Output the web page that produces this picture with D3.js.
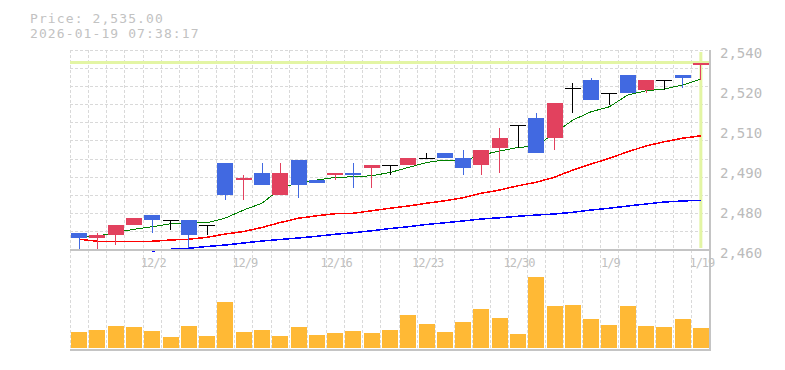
<!DOCTYPE html>
<html>
<head>
<meta charset="utf-8">
<script src="https://cdn.jsdelivr.net/npm/d3@7/dist/d3.min.js"></script>
<style>
    body { margin: 0; background: #fff; }
    svg { display: block; }
    .info { font-family: "DejaVu Sans Mono", monospace; font-size: 13px; fill: #c2c2c2; letter-spacing: 1.1px; }
    .yaxis text { font-family: "DejaVu Sans Mono", monospace; font-size: 14px; fill: #bbb; }
    .xaxis text { font-family: "DejaVu Sans Mono", monospace; font-size: 12px; fill: #c0c0c0; letter-spacing: -1px; }
</style>
</head>
<body>
<svg id="chart" width="785" height="370"></svg>
<script>
// Дневные свечи, 35 торговых дней
var dates = ["11/26", "11/27", "11/28", "12/1", "12/2", "12/3", "12/4", "12/5", "12/8", "12/9",
             "12/10", "12/11", "12/12", "12/15", "12/16", "12/17", "12/18", "12/19", "12/22", "12/23",
             "12/24", "12/25", "12/26", "12/29", "12/30", "1/5", "1/6", "1/7", "1/8", "1/9",
             "1/13", "1/14", "1/15", "1/16", "1/19"];

var open  = [2467, 2465, 2466, 2470, 2474, 2472, 2472, 2470, 2495, 2488,
             2491, 2482, 2496, 2488, 2490, 2491, 2493, 2494, 2494, 2497,
             2499, 2497, 2494, 2501, 2510, 2513, 2505, 2525, 2528, 2523,
             2530, 2524, 2528, 2530, 2534];
var high  = [2467, 2467, 2470, 2473, 2474, 2472, 2472, 2470, 2495, 2490,
             2495, 2495, 2496, 2488, 2491, 2495, 2494, 2494, 2497, 2499,
             2499, 2500, 2500, 2509, 2510, 2515, 2519, 2527, 2529, 2523,
             2530, 2528, 2528, 2530, 2535];
var low   = [2460, 2460, 2462, 2470, 2467, 2468, 2461, 2466, 2480, 2480,
             2486, 2482, 2481, 2487, 2488, 2485, 2485, 2490, 2494, 2497,
             2497, 2490, 2490, 2491, 2501, 2499, 2500, 2515, 2520, 2518,
             2523, 2523, 2524, 2525, 2528];
var close = [2465, 2466, 2470, 2473, 2472, 2472, 2466, 2470, 2482, 2489,
             2486, 2491, 2486, 2487, 2491, 2490, 2494, 2494, 2497, 2497,
             2497, 2493, 2500, 2505, 2510, 2499, 2519, 2525, 2520, 2523,
             2523, 2528, 2528, 2529, 2535];

var volume = [16300, 18000, 22000, 21000, 17000, 11000, 22000, 12000, 46000, 16000,
              18000, 12000, 21000, 13000, 15000, 17000, 15000, 18000, 33000, 24000,
              16000, 26000, 39000, 30000, 14000, 71000, 42000, 43000, 29000, 23000,
              42000, 22000, 21000, 29000, 20000];

// скользящие средние (короткая / средняя / длинная)
var maShort = [2465.0, 2465.6, 2467.0, 2468.3, 2469.3, 2470.5, 2470.8, 2470.9, 2472.8, 2476.0,
               2478.7, 2484.5, 2487.0, 2488.0, 2489.0, 2489.3, 2489.7, 2491.0, 2493.0, 2495.0,
               2496.0, 2495.7, 2498.0, 2499.6, 2501.0, 2501.6, 2506.7, 2512.0, 2515.3, 2517.3,
               2522.0, 2523.7, 2524.4, 2526.0, 2528.4];
var maMid   = [2464.3, 2463.5, 2463.5, 2463.5, 2463.5, 2464.0, 2464.3, 2465.1, 2466.4, 2467.4,
               2469.0, 2471.0, 2472.7, 2473.7, 2474.5, 2474.7, 2475.7, 2476.7, 2477.6, 2478.7,
               2479.7, 2480.9, 2482.7, 2484.0, 2485.7, 2487.1, 2489.1, 2492.0, 2494.4, 2496.7,
               2499.3, 2501.6, 2503.3, 2504.7, 2505.7];
var maLong  = [null, null, null, null, 2459.6, 2460.3, 2460.7, 2461.4, 2462.0, 2462.8,
               2463.6, 2464.2, 2464.8, 2465.5, 2466.3, 2466.9, 2467.7, 2468.6, 2469.3, 2470.2,
               2470.9, 2471.6, 2472.4, 2472.9, 2473.5, 2474.0, 2474.4, 2475.1, 2476.0, 2476.7,
               2477.6, 2478.4, 2479.2, 2479.6, 2479.9];

var lastPrice = 2535;
var infoLines = ["Price: 2,535.00", "2026-01-19 07:38:17"];

var xTickLabels = ["12/2", "12/9", "12/16", "12/23", "12/30", "1/9", "1/19"];
var yTickValues = [2540, 2524, 2508, 2492, 2476, 2460];
var yTickLabels = ["2,540", "2,520", "2,510", "2,490", "2,480", "2,460"];

var COLOR_UP = "#e2415e", COLOR_DOWN = "#4169e1", COLOR_EVEN = "#000";

var svg = d3.select("#chart");

var left = 70, right = 710;
var priceTop = 50, priceBottom = 250;
var volTop = 268, volBottom = 348, volAxis = 350;

var x = d3.scaleBand().domain(dates).range([left, right]).padding(0);
var cx = function(i) { return x(dates[i]) + x.bandwidth() / 2; };
var y = d3.scaleLinear().domain([2460, 2540]).range([priceBottom, priceTop]);
var yv = d3.scaleLinear().domain([0, 80000]).range([volBottom, volTop]);

var bodyW = 16;

///////////////////////
// Сетка
///////////////////////
var grid = svg.append("g")
    .attr("stroke", "#d9d9d9")
    .attr("stroke-dasharray", "3,2")
    .attr("shape-rendering", "crispEdges");

grid.selectAll("line.v")
    .data(dates)
    .enter().append("line")
    .attr("class", "v")
    .attr("x1", function(d) { return x(d); })
    .attr("x2", function(d) { return x(d); })
    .attr("y1", priceTop)
    .attr("y2", volAxis);

var gridY = d3.scaleLinear().domain([0, 11]).range([priceBottom, priceTop]);
grid.selectAll("line.h")
    .data(d3.range(1, 12))
    .enter().append("line")
    .attr("class", "h")
    .attr("x1", left)
    .attr("x2", right)
    .attr("y1", function(d) { return gridY(d); })
    .attr("y2", function(d) { return gridY(d); });

///////////////////////
// Текущая цена
///////////////////////
svg.append("line")
    .attr("x1", left).attr("x2", right)
    .attr("y1", y(lastPrice)).attr("y2", y(lastPrice))
    .attr("stroke", "#e3f5a4").attr("stroke-width", 3);

svg.append("line")
    .attr("x1", cx(dates.length - 1)).attr("x2", cx(dates.length - 1))
    .attr("y1", priceTop + 2).attr("y2", priceBottom - 2)
    .attr("stroke", "#e3f5a4").attr("stroke-width", 3);

///////////////////////
// Объём
///////////////////////
svg.append("g").selectAll("rect")
    .data(volume)
    .enter().append("rect")
    .attr("x", function(d, i) { return cx(i) - bodyW / 2; })
    .attr("width", bodyW)
    .attr("y", function(d) { return yv(d); })
    .attr("height", function(d) { return volBottom - yv(d); })
    .attr("fill", "#ffb935")
    .attr("shape-rendering", "crispEdges");

///////////////////////
// Средние
///////////////////////
var maLine = d3.line()
    .defined(function(d) { return d != null; })
    .x(function(d, i) { return cx(i); })
    .y(function(d) { return y(d); });

[[maLong, "#0000ff", 1.5], [maMid, "#ff0000", 1.5], [maShort, "#008000", 1]].forEach(function(s) {
    svg.append("path")
        .attr("d", maLine(s[0]))
        .attr("fill", "none")
        .attr("stroke", s[1])
        .attr("stroke-width", s[2])
        .attr("shape-rendering", "crispEdges");
});

///////////////////////
// Свечи
///////////////////////
var candleColor = function(i) {
    if (close[i] > open[i]) return COLOR_UP;
    if (close[i] < open[i]) return COLOR_DOWN;
    return COLOR_EVEN;
};

var candles = svg.append("g")
    .attr("shape-rendering", "crispEdges")
    .selectAll("g")
    .data(dates)
    .enter().append("g");

candles.append("line")
    .attr("x1", function(d, i) { return cx(i); })
    .attr("x2", function(d, i) { return cx(i); })
    .attr("y1", function(d, i) { return y(high[i]); })
    .attr("y2", function(d, i) { return y(low[i]); })
    .attr("stroke", function(d, i) { return candleColor(i); })
    .attr("stroke-width", 1);

candles.append("rect")
    .attr("x", function(d, i) { return cx(i) - bodyW / 2; })
    .attr("width", bodyW)
    .attr("y", function(d, i) { return y(Math.max(open[i], close[i])); })
    .attr("height", function(d, i) { return Math.max(1, Math.abs(y(open[i]) - y(close[i]))); })
    .attr("fill", function(d, i) { return candleColor(i); });

///////////////////////
// Рамка и оси
///////////////////////
var frame = svg.append("g").attr("stroke", "#c4c4c4").attr("stroke-width", 2);
frame.append("line").attr("x1", left).attr("x2", right).attr("y1", priceBottom).attr("y2", priceBottom);
frame.append("line").attr("x1", left).attr("x2", right + 1).attr("y1", volAxis).attr("y2", volAxis);
frame.append("line").attr("x1", right).attr("x2", right).attr("y1", priceTop).attr("y2", volAxis);

var yAxis = svg.append("g")
    .attr("class", "yaxis")
    .attr("transform", "translate(" + right + ",0)")
    .call(d3.axisRight(y)
        .tickValues(yTickValues)
        .tickSize(0)
        .tickPadding(10)
        .tickFormat(function(d, i) { return yTickLabels[i]; }));
yAxis.select(".domain").remove();
yAxis.selectAll("text").attr("y", 3.5);

var xAxis = svg.append("g")
    .attr("class", "xaxis")
    .attr("transform", "translate(1," + priceBottom + ")")
    .call(d3.axisBottom(x)
        .tickValues(xTickLabels)
        .tickSize(0)
        .tickPadding(8.5));
xAxis.select(".domain").remove();

///////////////////////
// Подпись
///////////////////////
svg.selectAll("text.info")
    .data(infoLines)
    .enter().append("text")
    .attr("class", "info")
    .attr("x", 30)
    .attr("y", function(d, i) { return 22.5 + i * 15.5; })
    .text(function(d) { return d; });
</script>
</body>
</html>
